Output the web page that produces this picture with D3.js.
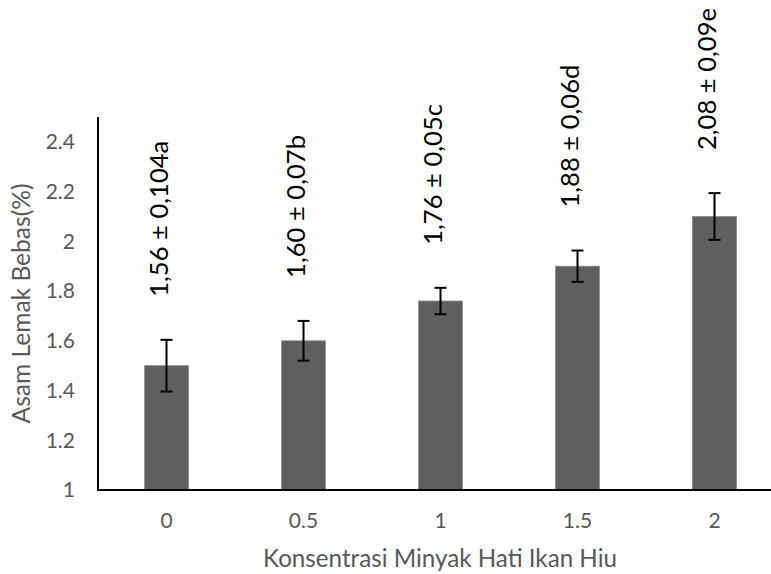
<!DOCTYPE html>
<html>
<head>
<meta charset="utf-8">
<script src="https://cdn.jsdelivr.net/npm/d3@7"></script>
<style>
  body { margin: 0; background: #fff; }
  svg { display: block; }
</style>
</head>
<body>
<svg id="chart" width="771" height="574"></svg>
<script>
// ---- data ----
const categories = ["0", "0.5", "1", "1.5", "2"];
const means = [1.5, 1.6, 1.76, 1.9, 2.1];
const errors = [0.104, 0.08, 0.053, 0.063, 0.094];
const labels = ["1,56 ± 0,104a", "1,60 ± 0,07b", "1,76 ± 0,05c", "1,88 ± 0,06d", "2,08 ± 0,09e"];
const yTicks = [1, 1.2, 1.4, 1.6, 1.8, 2, 2.2, 2.4];
const xTitle = "Konsentrasi Minyak Hati Ikan Hiu";
const yTitle = "Asam Lemak Bebas(%)";

(function () {
const svg = d3.select("#chart");
const pLeft = 98, pRight = 783, pTop = 117, pBottom = 490;
const font = "Lato, 'Open Sans', sans-serif";
const gray = "#595959";

const x = d3.scaleBand().domain(categories).range([pLeft, pRight]).paddingInner(0.68).paddingOuter(0.34);
const y = d3.scaleLinear().domain([1, 2.5]).range([pBottom, pTop]);

const rows = categories.map((c, i) => ({ c, m: means[i], e: errors[i], l: labels[i] }));

// bars
svg.append("g").selectAll("rect").data(rows).join("rect")
  .attr("x", d => x(d.c))
  .attr("y", d => y(d.m))
  .attr("width", x.bandwidth())
  .attr("height", d => y(1) - y(d.m))
  .attr("fill", "#5f5f5f")
  .attr("stroke", "#8c8c8c")
  .attr("stroke-width", 0.8);

// error bars
const eb = svg.append("g").attr("stroke", "#000").attr("stroke-width", 2);
rows.forEach(d => {
  const cx = x(d.c) + x.bandwidth() / 2;
  eb.append("line").attr("x1", cx).attr("x2", cx).attr("y1", y(d.m + d.e)).attr("y2", y(d.m - d.e));
  eb.append("line").attr("x1", cx - 6).attr("x2", cx + 6).attr("y1", y(d.m + d.e)).attr("y2", y(d.m + d.e));
  eb.append("line").attr("x1", cx - 6).attr("x2", cx + 6).attr("y1", y(d.m - d.e)).attr("y2", y(d.m - d.e));
});

// rotated value labels
const lab = svg.append("g").selectAll("text").data(rows).join("text")
  .attr("transform", d => `translate(${x(d.c) + x.bandwidth() / 2 + 1},${y(d.m + d.e) - 43}) rotate(-90)`)
  .attr("text-anchor", "start")
  .attr("font-family", font)
  .attr("font-size", 25)
  .attr("fill", "#000")
  .text(d => d.l);
{
  const n = lab.nodes()[1];
  const w = n.getComputedTextLength();
  lab.attr("font-size", 25 * 143 / w);
}

// y axis
const yAxis = d3.axisLeft(y).tickValues(yTicks).tickSize(0).tickPadding(23)
  .tickFormat(d => String(d));
const gy = svg.append("g").attr("transform", `translate(${pLeft},0)`).call(yAxis);
gy.select(".domain").remove();
gy.selectAll("text").attr("font-family", font).attr("font-size", 21).attr("fill", gray);
svg.append("line").attr("x1", pLeft).attr("x2", pLeft).attr("y1", pTop).attr("y2", pBottom + 1)
  .attr("stroke", "#000").attr("stroke-width", 2);

// x axis
const xAxis = d3.axisBottom(x).tickSize(0).tickPadding(23);
const gx = svg.append("g").attr("transform", `translate(0,${pBottom})`).call(xAxis);
gx.select(".domain").remove();
gx.selectAll("text").attr("font-family", font).attr("font-size", 21).attr("fill", gray);
svg.append("line").attr("x1", pLeft - 1).attr("x2", pRight).attr("y1", pBottom).attr("y2", pBottom)
  .attr("stroke", "#000").attr("stroke-width", 2);

// axis titles
const xt = svg.append("text").attr("x", 440).attr("y", 567)
  .attr("text-anchor", "middle").attr("font-family", font).attr("font-size", 22).attr("fill", gray)
  .text(xTitle);
{ const w = xt.node().getComputedTextLength(); xt.attr("font-size", 22 * 354 / w); }

const yt = svg.append("text").attr("transform", `translate(30,${(pTop + pBottom) / 2}) rotate(-90)`)
  .attr("text-anchor", "middle").attr("font-family", font).attr("font-size", 22).attr("fill", gray)
  .text(yTitle);
{ const w = yt.node().getComputedTextLength(); yt.attr("font-size", 22 * 240 / w); }
})();
</script>
</body>
</html>
